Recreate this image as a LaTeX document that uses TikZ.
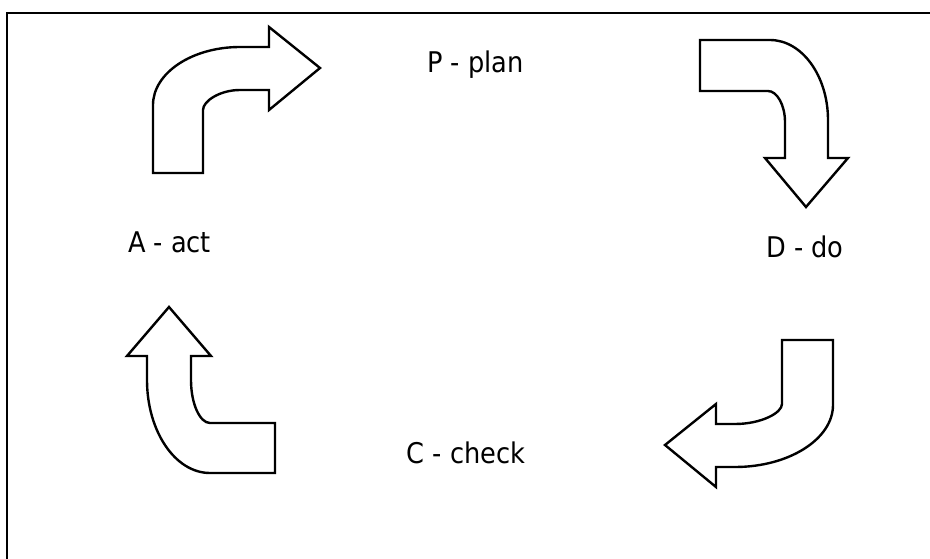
\documentclass[tikz,border=0pt]{standalone}
\usepackage{fontspec}
\setmainfont{DejaVu Sans Condensed}
\begin{document}
\begin{tikzpicture}[x=1pt,y=-1pt,
  bentarrow/.style={draw=black,line width=2.4pt,fill=white,line join=miter},
  framelinestyle/.style={draw=black,line width=2.2pt},
  label/.style={font=\fontsize{28.5}{34}\selectfont,anchor=base,inner sep=0pt}]
\useasboundingbox (0,0) rectangle (930,559);
% frame
\draw[framelinestyle] (7,559) -- (7,13) -- (930,13);
% A -> P arrow
\path[bentarrow] (153,173) -- (153,105) .. controls (153,73) and (192,47) .. (240,47)
  -- (269,47) -- (269,27) -- (320,68) -- (269,110) -- (269,90) -- (240,90)
  .. controls (220,90) and (203,101) .. (203,110) -- (203,173) -- cycle;
% P -> D arrow
\path[bentarrow] (700,40) -- (770,40) .. controls (802,40) and (828,76) .. (828,120)
  -- (828,158) -- (848,158) -- (806,207) -- (765,158) -- (785,158) -- (785,122)
  .. controls (785,105) and (777,91) .. (768,91) -- (700,91) -- cycle;
% D -> C arrow
\path[bentarrow] (782,340) -- (833,340) -- (833,405) .. controls (833,439) and (789,467) .. (735,467)
  -- (716,467) -- (716,487) -- (665,445) -- (716,404) -- (716,424) -- (735,424)
  .. controls (761,424) and (782,413) .. (782,404) -- cycle;
% C -> A arrow
\path[bentarrow] (169,307) -- (211,356) -- (191,356) -- (191,380)
  .. controls (191,404) and (200,423) .. (210,423) -- (275,423) -- (275,473) -- (210,473)
  .. controls (175,473) and (147,431) .. (147,380) -- (147,356) -- (127,356) -- cycle;
% labels
\node[label] (plan) at (475.5,73) {P - plan};
\node[label] (act) at (169.5,253) {A - act};
\node[label] (do) at (805,258) {D - do};
\node[label] (check) at (466,463) {C - check};
\end{tikzpicture}
\end{document}
